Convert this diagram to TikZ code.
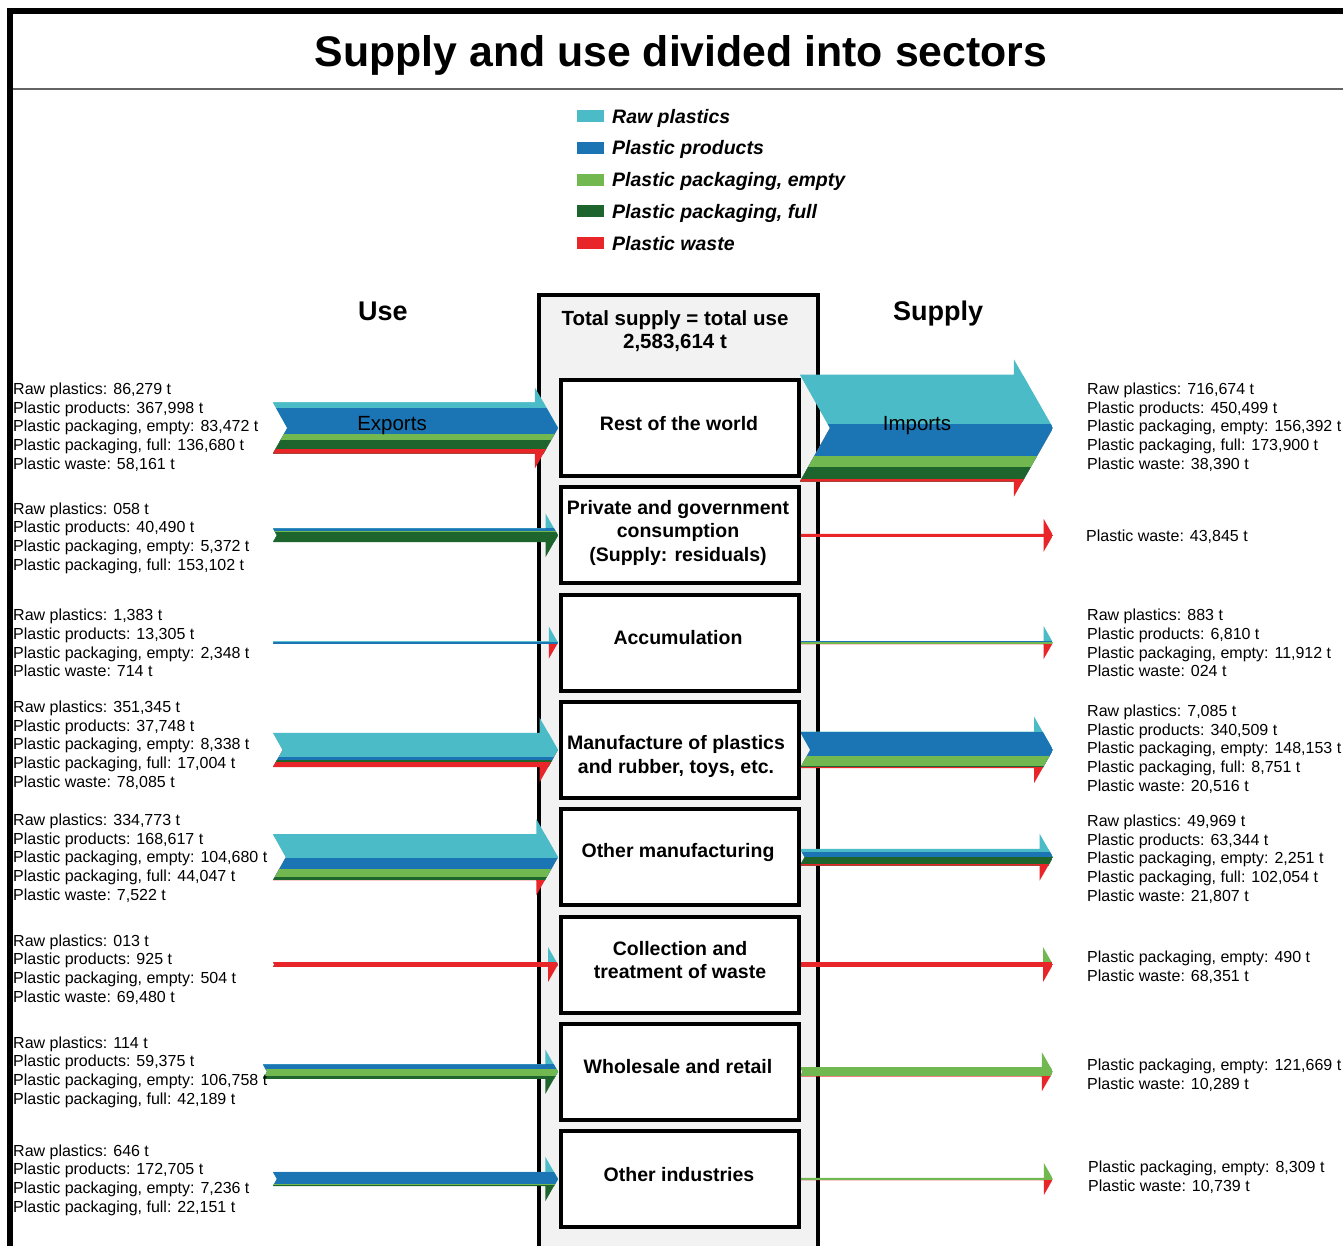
\documentclass[tikz,border=0pt]{standalone}
\usepackage{fontspec}
\setmainfont{Liberation Sans}

\definecolor{rawc}{RGB}{75,187,200}
\definecolor{prodc}{RGB}{27,117,180}
\definecolor{emptyc}{RGB}{114,184,80}
\definecolor{fullc}{RGB}{30,100,45}
\definecolor{wastec}{RGB}{232,38,42}
\definecolor{colbg}{RGB}{242,242,242}
\definecolor{rulegray}{RGB}{100,100,100}

% Stacked flow arrow: #1 tail x, #2 tip x, #3 centre y,
% #4 colour of upper barb, #5 colour of lower barb, #6 list colour/width (top to bottom)
\newcommand\flowarrow[6]{%
  \xdef\fwTotal{0}%
  \foreach \bc/\bw in {#6}{%
    \pgfmathsetmacro\fwTmp{\fwTotal+\bw}%
    \xdef\fwTotal{\fwTmp}}%
  \pgfmathsetmacro\fwHalf{\fwTotal/2}%
  \pgfmathsetmacro\fwHead{\fwHalf+15}%
  \pgfmathsetmacro\fwBase{#2-0.57*\fwHead}%
  \pgfmathsetmacro\fwNotch{#1+0.56*\fwHalf}%
  \begin{scope}
    \clip (#1,#3-\fwHalf) -- (\fwBase,#3-\fwHalf) -- (\fwBase,#3-\fwHead)
      -- (#2,#3) -- (\fwBase,#3+\fwHead) -- (\fwBase,#3+\fwHalf)
      -- (#1,#3+\fwHalf) -- (\fwNotch,#3) -- cycle;
    \fill[#4] (#1,#3-\fwHead-1) rectangle (#2,#3);
    \fill[#5] (#1,#3) rectangle (#2,#3+\fwHead+1);
    \pgfmathsetmacro\fwStart{#3-\fwHalf}%
    \xdef\fwY{\fwStart}%
    \foreach \bc/\bw in {#6}{%
      \pgfmathsetmacro\fwNext{\fwY+\bw}%
      \fill[\bc] (#1,\fwY) rectangle (#2,#3+\fwHalf);
      \xdef\fwY{\fwNext}}%
  \end{scope}}

\tikzset{
  sectorbox/.style={draw, line width=4pt, fill=white, minimum width=238pt,
    minimum height=96pt, inner sep=0pt},
  sectortext/.style={font=\fontsize{19.5}{23.5}\selectfont\bfseries, align=center, inner sep=0pt},
  amounts/.style={font=\fontsize{16}{18.7}\selectfont, align=left, inner sep=0pt, anchor=west},
  flowname/.style={font=\fontsize{20.5}{24}\selectfont, inner sep=0pt},
  legendtext/.style={font=\fontsize{19.5}{23}\selectfont\bfseries\itshape, inner sep=0pt, anchor=base west},
  sidehead/.style={font=\fontsize{27}{30}\selectfont\bfseries, inner sep=0pt, anchor=base},
}

\begin{document}
\begin{tikzpicture}[x=1pt, y=-1pt]
  \clip (0,0) rectangle (1343,1245);
  \fill[white] (0,0) rectangle (1343,1245);

  % frame and title
  \draw[line width=6pt] (10,1260) -- (10,10.5) -- (1360,10.5);
  \draw[rulegray, line width=1.5pt] (13,89) -- (1360,89);
  \node[font=\fontsize{42.8}{48}\selectfont\bfseries, inner sep=0pt, anchor=base]
    (title) at (681,66) {Supply and use divided into sectors};

  % legend
  \foreach \c/\t [count=\i] in {rawc/Raw plastics, prodc/Plastic products,
      emptyc/{Plastic packaging, empty}, fullc/{Plastic packaging, full}, wastec/Plastic waste}{
    \pgfmathsetmacro\ly{116+31.75*(\i-1)}
    \fill[\c] (577,\ly-6) rectangle (604,\ly+6);
    \node[legendtext] (leg\i) at (612,\ly+7) {\t};
  }

  % side headings
  \node[sidehead] (use) at (383,320) {Use};
  \node[sidehead] (supply) at (938,320) {Supply};

  % central column
  \fill[colbg] (539,295) rectangle (818,1260);
  \draw[line width=4pt] (539,1260) -- (539,295) -- (818,295) -- (818,1260);
  \node[font=\fontsize{20.5}{23}\selectfont\bfseries, align=center, inner sep=0pt]
    (total) at (675,331) {Total supply = total use\\2,583,614 t};

  % use flows (into the sectors)
  \flowarrow{273}{558}{428}{rawc}{wastec}{rawc/6.01,prodc/25.64,emptyc/5.82,fullc/9.52,wastec/4.05}
  \flowarrow{273}{558}{535.3}{rawc}{fullc}{rawc/0.01,prodc/2.82,emptyc/0.37,fullc/10.67}
  \flowarrow{273}{558}{642.6}{rawc}{wastec}{rawc/0.1,prodc/2.0,emptyc/0.2,wastec/0.1}
  \flowarrow{273}{558}{749.9}{rawc}{wastec}{rawc/24.48,prodc/2.63,emptyc/0.58,fullc/1.18,wastec/5.44}
  \flowarrow{273}{558}{857.2}{rawc}{wastec}{rawc/23.32,prodc/11.75,emptyc/7.29,fullc/3.07,wastec/0.52}
  \flowarrow{273}{558}{964.5}{rawc}{wastec}{rawc/0.0,prodc/0.06,emptyc/0.04,wastec/4.84}
  \flowarrow{263}{558}{1071.7}{rawc}{fullc}{rawc/0.01,prodc/4.14,emptyc/7.44,fullc/2.94}
  \flowarrow{273}{558}{1179}{rawc}{fullc}{rawc/0.05,prodc/12.03,emptyc/0.5,fullc/1.54}

  % supply flows (out of the sectors)
  \flowarrow{800}{1053}{428}{rawc}{wastec}{rawc/49.93,prodc/31.39,emptyc/10.9,fullc/12.12,wastec/2.67}
  \flowarrow{800}{1053}{535.3}{wastec}{wastec}{wastec/3.05}
  \flowarrow{800}{1053}{642.6}{rawc}{wastec}{rawc/0.1,prodc/0.3,emptyc/2.5,wastec/0.05}
  \flowarrow{800}{1053}{749.9}{rawc}{wastec}{rawc/0.49,prodc/23.72,emptyc/10.32,fullc/0.61,wastec/1.43}
  \flowarrow{800}{1053}{857.2}{rawc}{wastec}{rawc/3.48,prodc/4.41,emptyc/0.16,fullc/7.11,wastec/1.52}
  \flowarrow{800}{1053}{964.5}{emptyc}{wastec}{emptyc/0.03,wastec/4.76}
  \flowarrow{800}{1053}{1071.7}{emptyc}{wastec}{emptyc/8.48,wastec/0.72}
  \flowarrow{800}{1053}{1179}{emptyc}{wastec}{emptyc/1.6,wastec/0.5}

  \node[flowname] (exports) at (392,426) {Exports};
  \node[flowname] (imports) at (917,426) {Imports};

  % sectors
  \node[sectorbox] (s1) at (680,428) {};
  \node[sectorbox] (s2) at (680,535.3) {};
  \node[sectorbox] (s3) at (680,642.6) {};
  \node[sectorbox] (s4) at (680,749.9) {};
  \node[sectorbox] (s5) at (680,857.2) {};
  \node[sectorbox] (s6) at (680,964.5) {};
  \node[sectorbox] (s7) at (680,1071.7) {};
  \node[sectorbox] (s8) at (680,1179) {};
  \node[sectortext] (t1) at (679,424) {Rest of the world};
  \node[sectortext] (t2) at (678,532.5) {Private and government\\consumption\\(Supply: residuals)};
  \node[sectortext] (t3) at (678,637.5) {Accumulation};
  \node[sectortext] (t4) at (676,756.5) {Manufacture of plastics\\and rubber, toys, etc.};
  \node[sectortext] (t5) at (678,852.5) {Other manufacturing};
  \node[sectortext] (t6) at (680,960) {Collection and\\treatment of waste};
  \node[sectortext] (t7) at (678,1066.5) {Wholesale and retail};
  \node[sectortext] (t8) at (679,1174.5) {Other industries};

  % use amounts
  \node[amounts] (u1) at (13,427) {Raw plastics: 86,279 t\\Plastic products: 367,998 t\\Plastic packaging, empty: 83,472 t\\Plastic packaging, full: 136,680 t\\Plastic waste: 58,161 t};
  \node[amounts] (u2) at (13,538) {Raw plastics: 058 t\\Plastic products: 40,490 t\\Plastic packaging, empty: 5,372 t\\Plastic packaging, full: 153,102 t};
  \node[amounts] (u3) at (13,643) {Raw plastics: 1,383 t\\Plastic products: 13,305 t\\Plastic packaging, empty: 2,348 t\\Plastic waste: 714 t};
  \node[amounts] (u4) at (13,745) {Raw plastics: 351,345 t\\Plastic products: 37,748 t\\Plastic packaging, empty: 8,338 t\\Plastic packaging, full: 17,004 t\\Plastic waste: 78,085 t};
  \node[amounts] (u5) at (13,858) {Raw plastics: 334,773 t\\Plastic products: 168,617 t\\Plastic packaging, empty: 104,680 t\\Plastic packaging, full: 44,047 t\\Plastic waste: 7,522 t};
  \node[amounts] (u6) at (13,969.5) {Raw plastics: 013 t\\Plastic products: 925 t\\Plastic packaging, empty: 504 t\\Plastic waste: 69,480 t};
  \node[amounts] (u7) at (13,1072) {Raw plastics: 114 t\\Plastic products: 59,375 t\\Plastic packaging, empty: 106,758 t\\Plastic packaging, full: 42,189 t};
  \node[amounts] (u8) at (13,1180) {Raw plastics: 646 t\\Plastic products: 172,705 t\\Plastic packaging, empty: 7,236 t\\Plastic packaging, full: 22,151 t};

  % supply amounts
  \node[amounts] (v1) at (1087,427) {Raw plastics: 716,674 t\\Plastic products: 450,499 t\\Plastic packaging, empty: 156,392 t\\Plastic packaging, full: 173,900 t\\Plastic waste: 38,390 t};
  \node[amounts] (v2) at (1086,537) {Plastic waste: 43,845 t};
  \node[amounts] (v3) at (1087,643) {Raw plastics: 883 t\\Plastic products: 6,810 t\\Plastic packaging, empty: 11,912 t\\Plastic waste: 024 t};
  \node[amounts] (v4) at (1087,749) {Raw plastics: 7,085 t\\Plastic products: 340,509 t\\Plastic packaging, empty: 148,153 t\\Plastic packaging, full: 8,751 t\\Plastic waste: 20,516 t};
  \node[amounts] (v5) at (1087,859) {Raw plastics: 49,969 t\\Plastic products: 63,344 t\\Plastic packaging, empty: 2,251 t\\Plastic packaging, full: 102,054 t\\Plastic waste: 21,807 t};
  \node[amounts] (v6) at (1087,967.5) {Plastic packaging, empty: 490 t\\Plastic waste: 68,351 t};
  \node[amounts] (v7) at (1087,1075) {Plastic packaging, empty: 121,669 t\\Plastic waste: 10,289 t};
  \node[amounts] (v8) at (1088,1177) {Plastic packaging, empty: 8,309 t\\Plastic waste: 10,739 t};
\end{tikzpicture}
\end{document}
